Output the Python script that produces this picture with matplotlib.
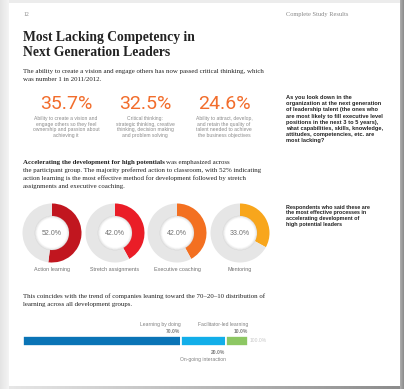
import numpy as np
import matplotlib
matplotlib.use("Agg")
import matplotlib.pyplot as plt
from matplotlib.patches import Rectangle, Circle
from matplotlib.colors import LinearSegmentedColormap

W, H = 404, 389

# ---- data ----
top_values = [35.7, 32.5, 24.6]
top_labels = [
    "Ability to create a vision and\nengage others so they feel\nownership and passion about\nachieving it",
    "Critical thinking:\nstrategic thinking, creative\nthinking, decision making\nand problem solving",
    "Ability to attract, develop,\nand retain the quality of\ntalent needed to achieve\nthe business objectives",
]
donut_labels = ["Action learning", "Stretch assignments", "Executive coaching", "Mentoring"]
donut_values = [52.0, 42.0, 42.0, 33.0]
donut_colors = ["#c1161f", "#ea1d27", "#f37021", "#f8a61c"]

bar_labels = ["Learning by doing", "On-going interaction", "Facilitator-led learning"]
bar_values = [70.0, 20.0, 10.0]
bar_colors = ["#0a74b6", "#12aee9", "#8dc763"]

SERIF = "Liberation Serif"
SANS = "Liberation Sans"
BODY = 4.95


def Y(y):
    return H - y


fig = plt.figure(figsize=(W / 100, H / 100), dpi=100)
fig.patch.set_facecolor("#ececec")
ax = fig.add_axes([0, 0, 1, 1])
ax.set_xlim(0, W)
ax.set_ylim(0, H)
ax.axis("off")

# page background with shadow edges
grad = np.linspace(0, 1, 64)[None, :]
ax.imshow(grad, extent=(0, 9, 0, H), cmap=LinearSegmentedColormap.from_list(
    "l", ["#e4e4e4", "#f4f4f4"]), aspect="auto", zorder=0)
ax.imshow(grad, extent=(9, W, 0, Y(386)), cmap=LinearSegmentedColormap.from_list(
    "b", ["#e6e6e6", "#8c8c8c"]), aspect="auto", zorder=0)
ax.imshow(grad, extent=(400, W, 0, H), cmap=LinearSegmentedColormap.from_list(
    "r", ["#b0b0b0", "#8a8a8a"]), aspect="auto", zorder=0)
ax.add_patch(Rectangle((9, Y(386)), 391, 383, facecolor="white", edgecolor="none", zorder=1))
ax.set_xlim(0, W)
ax.set_ylim(0, H)

# header
ax.text(24, Y(14), "12", fontsize=4.2, family=SERIF, color="#888888", va="center", zorder=3)
ax.text(286, Y(14), "Complete Study Results", fontsize=4.6, family=SERIF, color="#888888",
        va="center", zorder=3)

# title
ax.text(23, Y(37), "Most Lacking Competency in", fontsize=9.8, family=SERIF,
        weight="bold", color="#222222", va="center", zorder=3)
ax.text(23, Y(52), "Next Generation Leaders", fontsize=9.8, family=SERIF,
        weight="bold", color="#222222", va="center", zorder=3)

ax.text(23, Y(71), "The ability to create a vision and engage others has now passed critical thinking, which",
        fontsize=BODY, family=SERIF, color="#222222", va="center", zorder=3)
ax.text(23, Y(79), "was number 1 in 2011/2012.", fontsize=BODY, family=SERIF, color="#222222",
        va="center", zorder=3)

# big percentages
for cx, v, lab in zip([66, 145, 224], top_values, top_labels):
    ax.text(cx, Y(103.5), f"{v:.1f}%", fontsize=14, family="Roboto", weight="normal",
            color="#f26d2c", ha="center", va="center", zorder=3)
    ax.text(cx, Y(116), lab, fontsize=3.6, family=SANS, color="#8a8a8a", ha="center",
            va="top", linespacing=1.15, zorder=3)

ax.text(286, Y(95), "As you look down in the\norganization at the next generation\n"
        "of leadership talent (the ones who\nare most likely to fill executive level\n"
        "positions in the next 3 to 5 years),\nwhat capabilities, skills, knowledge,\n"
        "attitudes, competencies, etc. are\nmost lacking?",
        fontsize=4.05, family=SANS, weight="bold", color="#222222", va="top",
        linespacing=1.3, zorder=3)

# paragraph 2 (bold lead-in followed by regular text on the same line)
lead = ax.text(23, Y(162), "Accelerating the development for high potentials", fontsize=BODY,
               family=SERIF, weight="bold", color="#222222", va="center", zorder=3)
fig.canvas.draw()
bb = lead.get_window_extent(fig.canvas.get_renderer())
ax.text(bb.x1 + 1.5, Y(162), "was emphasized across", fontsize=BODY, family=SERIF,
        color="#222222", va="center", zorder=3)
para = ["the participant group. The majority preferred action to classroom, with 52% indicating",
        "action learning is the most effective method for development followed by stretch",
        "assignments and executive coaching."]
for i, line in enumerate(para):
    ax.text(23, Y(170.3 + 8.3 * i), line, fontsize=BODY, family=SERIF, color="#222222",
            va="center", zorder=3)

ax.text(286, Y(204.5), "Respondents who said these are\nthe most effective processes in\n"
        "accelerating development of\nhigh potential leaders",
        fontsize=3.9, family=SANS, weight="bold", color="#222222", va="top",
        linespacing=1.2, zorder=3)

# donuts
r_out, ring = 29.5, 12.5
for cx, v, col, lab in zip([52, 115, 177, 240], donut_values, donut_colors, donut_labels):
    cy = Y(233)
    ax.pie([v, 100 - v], colors=[col, "#e6e6e6"], center=(cx, cy), radius=r_out,
           startangle=90, counterclock=False,
           wedgeprops=dict(width=ring, edgecolor="none"), frame=True)
    for rr, a in [(r_out - ring - 0.2, 0.22), (r_out - ring - 1.0, 0.12),
                  (r_out - ring - 1.8, 0.06)]:
        ax.add_patch(Circle((cx, cy), rr, facecolor="none", edgecolor="#9a9a9a",
                            linewidth=0.8, alpha=a, zorder=3))
    ax.text(cx, cy, f"{v:.1f}%", fontsize=5.0, family=SANS, color="#707070",
            ha="center", va="center", zorder=4)
    ax.text(cx, Y(269), lab, fontsize=3.9, family=SANS, color="#707070",
            ha="center", va="center", zorder=4)

ax.set_xlim(0, W)
ax.set_ylim(0, H)
ax.set_aspect("auto")
ax.axis("off")

# paragraph 3
ax.text(23, Y(296.5), "This coincides with the trend of companies leaning toward the 70\u201320\u201310 distribution of",
        fontsize=BODY, family=SERIF, color="#222222", va="center", zorder=3)
ax.text(23, Y(304.8), "learning across all development groups.", fontsize=BODY, family=SERIF,
        color="#222222", va="center", zorder=3)

# stacked bar
x0, x1 = 23, 248
bx = fig.add_axes([x0 / W, Y(346) / H, (x1 - x0) / W, 10 / H])
bx.set_xlim(0, sum(bar_values))
bx.set_ylim(-0.5, 0.5)
bx.axis("off")
left = 0
for v, col in zip(bar_values, bar_colors):
    bx.barh(0, v, left=left, height=1, color=col, edgecolor="white", linewidth=1.2)
    left += v

scale = (x1 - x0) / sum(bar_values)
ends = np.cumsum(bar_values)
ax.text(x1 + 2, Y(341), f"{sum(bar_values):.1f}%", fontsize=3.6, family=SANS,
        color="#c8c8c8", va="center", zorder=4)
for idx in (0, 2):
    xe = x0 + ends[idx] * scale
    ax.text(xe, Y(324.7), bar_labels[idx], fontsize=3.6, family=SANS, color="#808080",
            ha="right", va="center", zorder=4)
    ax.text(xe, Y(331.3), f"{bar_values[idx]:.1f}%", fontsize=3.6, family=SANS,
            weight="bold", color="#808080", ha="right", va="center", zorder=4)
xe = x0 + ends[1] * scale
ax.text(xe, Y(352.3), f"{bar_values[1]:.1f}%", fontsize=3.6, family=SANS, weight="bold",
        color="#808080", ha="right", va="center", zorder=4)
ax.text(xe, Y(359.3), bar_labels[1], fontsize=3.6, family=SANS, color="#808080",
        ha="right", va="center", zorder=4)

fig.savefig("out.png", dpi=100, facecolor=fig.get_facecolor())
